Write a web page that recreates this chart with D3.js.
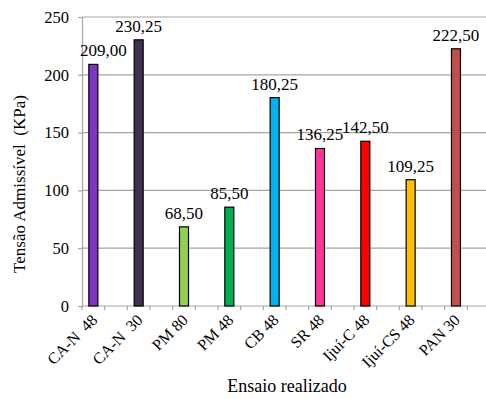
<!DOCTYPE html>
<html>
<head>
<meta charset="utf-8">
<script src="https://cdn.jsdelivr.net/npm/d3@7"></script>
<style>
  html, body { margin: 0; padding: 0; background: #fff; }
  svg { display: block; }
</style>
</head>
<body>
<svg id="chart" width="486" height="399"></svg>
<script>
// Admissible stress per test (KPa)
const categories = ["CA-N  48", "CA-N  30", "PM 80", "PM 48", "CB 48", "SR 48", "Ijuí-C 48", "Ijuí-CS 48", "PAN 30"];
const values = [209.00, 230.25, 68.50, 85.50, 180.25, 136.25, 142.50, 109.25, 222.50];
const valueLabels = ["209,00", "230,25", "68,50", "85,50", "180,25", "136,25", "142,50", "109,25", "222,50"];
const barColors = ["#8034BF", "#403152", "#92D050", "#00B050", "#00B0F0", "#FF3399", "#FF0000", "#FFC000", "#C0504D"];
const yTicks = [0, 50, 100, 150, 200, 250];
const xTitle = "Ensaio realizado";
const yTitle = "Tensão Admissível  (KPa)";

const W = 486, H = 399;
const plotLeft = 82, plotTop = 17, plotBottom = 306;
const slot = 45.33;           // one category slot (bar + empty half)
const barW = 9;
const FONT = "'Liberation Serif', 'Times New Roman', serif";
const GRID = "#A6A6A6";

const svg = d3.select("#chart");

// the range leaves one trailing empty half slot after the last bar
const x = d3.scaleBand()
  .domain(categories)
  .range([plotLeft, plotLeft + slot * categories.length])
  .paddingInner(0).paddingOuter(0);

const y = d3.scaleLinear().domain([0, 250]).range([plotBottom, plotTop]);

const barCenter = c => x(c) + x.step() / 4;

// horizontal gridlines
svg.append("g")
  .selectAll("line")
  .data(yTicks.filter(t => t > 0))
  .join("line")
  .attr("x1", plotLeft).attr("x2", W)
  .attr("y1", d => y(d)).attr("y2", d => y(d))
  .attr("stroke", GRID).attr("stroke-width", 1.2);

// y axis
const yAxis = svg.append("g")
  .attr("transform", `translate(${plotLeft},0)`)
  .call(d3.axisLeft(y).tickValues(yTicks).tickSize(4).tickPadding(9).tickFormat(d3.format("d")));
yAxis.select(".domain").attr("stroke", GRID).attr("stroke-width", 1.2);
yAxis.selectAll(".tick line").attr("stroke", GRID).attr("stroke-width", 1.2);
yAxis.selectAll(".tick text")
  .style("font-family", FONT).style("font-size", "16.5px").attr("fill", "#000");

// x axis line and ticks at every half slot
svg.append("line")
  .attr("x1", plotLeft).attr("x2", W)
  .attr("y1", plotBottom).attr("y2", plotBottom)
  .attr("stroke", GRID).attr("stroke-width", 1.2);

const tickPos = [];
for (let i = 0; i <= categories.length; i++) {
  const x0 = plotLeft + i * x.step();
  tickPos.push(x0, x0 + x.step() / 2);
}
svg.append("g")
  .selectAll("line")
  .data(tickPos.filter(p => p <= W))
  .join("line")
  .attr("x1", d => d).attr("x2", d => d)
  .attr("y1", plotBottom).attr("y2", plotBottom + 4)
  .attr("stroke", GRID).attr("stroke-width", 1.2);

// bars
svg.append("g")
  .selectAll("rect")
  .data(categories)
  .join("rect")
  .attr("x", c => barCenter(c) - barW / 2)
  .attr("y", (c, i) => y(values[i]))
  .attr("width", barW)
  .attr("height", (c, i) => y(0) - y(values[i]))
  .attr("fill", (c, i) => barColors[i])
  .attr("stroke", "#000").attr("stroke-width", 1.2);

// value labels, kept clear of the y axis
const vl = svg.append("g")
  .selectAll("text")
  .data(categories)
  .join("text")
  .attr("text-anchor", "middle")
  .style("font-family", FONT).style("font-size", "17px")
  .attr("y", (c, i) => y(values[i]) - 8)
  .text((c, i) => valueLabels[i]);
vl.attr("x", function (c) {
  const w = this.getComputedTextLength();
  return Math.max(barCenter(c), plotLeft - 2 + w / 2);
});

// category labels, rotated
svg.append("g")
  .selectAll("text")
  .data(categories)
  .join("text")
  .attr("text-anchor", "end")
  .style("font-family", FONT).style("font-size", "16px").style("white-space", "pre")
  .attr("transform", c => `translate(${barCenter(c) + 5},${plotBottom + 15}) rotate(-45)`)
  .text(c => c);

// axis titles
svg.append("text")
  .attr("x", 287).attr("y", 392)
  .attr("text-anchor", "middle")
  .style("font-family", FONT).style("font-size", "18px")
  .text(xTitle);

svg.append("text")
  .attr("transform", "translate(25,184) rotate(-90)")
  .attr("text-anchor", "middle")
  .style("font-family", FONT).style("font-size", "17px").style("white-space", "pre")
  .text(yTitle);
</script>
</body>
</html>
